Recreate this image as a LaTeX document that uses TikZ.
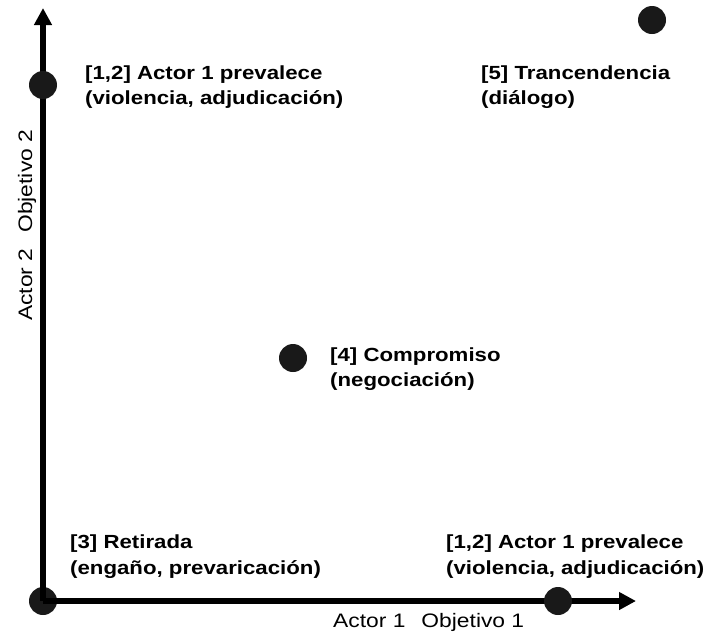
\documentclass[tikz,border=0pt]{standalone}
\usepackage{fontspec}
\setmainfont{Liberation Sans}
\newfontfamily\lblfont[FakeStretch=1.17]{Liberation Sans}
\newfontfamily\axfont[FakeStretch=1.17]{Liberation Sans}
\usetikzlibrary{arrows.meta}
\begin{document}
\begin{tikzpicture}[x=1pt,y=-1pt,
  axis/.style={line width=6pt,-{Triangle[length=17pt,width=17pt]}},
  dot/.style={circle,fill=black!90,draw=none,minimum size=28pt,inner sep=0pt},
  lbl/.style={anchor=base west,font=\lblfont\bfseries\fontsize{19}{25}\selectfont,inner sep=0pt},
  axlbl/.style={font=\axfont\fontsize{19.5}{22}\selectfont,inner sep=0pt,anchor=base west}]
\useasboundingbox (0,0) rectangle (708,633);
\coordinate (ytip) at (43,8);
\coordinate (xtip) at (636,601);
\node[dot] (o) at (43,601) {};
\draw[axis] (o.center) -- (ytip);
\draw[axis] (o.center) -- (xtip);
\node[dot] (y12) at (43,85) {};
\node[dot] (x12) at (558,601) {};
\node[dot] (d5) at (652,20) {};
\node[dot] (d4) at (293,358) {};
\node[lbl] (t12a) at (85,79) {[1,2] Actor 1 prevalece};
\node[lbl] (t12a2) at (85,104) {(violencia, adjudicación)};
\node[lbl] (t5) at (481,79) {[5] Trancendencia};
\node[lbl] (t52) at (481,104) {(diálogo)};
\node[lbl] (t4) at (330,361) {[4] Compromiso};
\node[lbl] (t42) at (330,386) {(negociación)};
\node[lbl] (t3) at (70,548) {[3] Retirada};
\node[lbl] (t32) at (70,574) {(engaño, prevaricación)};
\node[lbl] (t12b) at (446,548) {[1,2] Actor 1 prevalece};
\node[lbl] (t12b2) at (446,574) {(violencia, adjudicación)};
\node[axlbl] (xl) at (333,627) {Actor 1\hspace{16pt}Objetivo 1};
\node[axlbl,rotate=90] (yl) at (32,321) {Actor 2\hspace{16pt}Objetivo 2};
\end{tikzpicture}
\end{document}
